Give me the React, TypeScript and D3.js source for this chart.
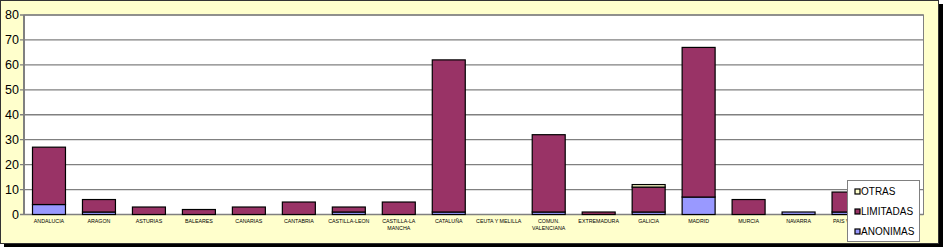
import React from "react";
import * as d3 from "d3";

const categories = [
  "ANDALUCIA", "ARAGON", "ASTURIAS", "BALEARES", "CANARIAS", "CANTABRIA",
  "CASTILLA-LEON", "CASTILLA-LA MANCHA", "CATALUÑA", "CEUTA Y MELILLA",
  "COMUN. VALENCIANA", "EXTREMADURA", "GALICIA", "MADRID", "MURCIA",
  "NAVARRA", "PAIS VASCO", "LA RIOJA",
];
const labelLines: string[][] = [
  ["ANDALUCIA"], ["ARAGON"], ["ASTURIAS"], ["BALEARES"], ["CANARIAS"], ["CANTABRIA"],
  ["CASTILLA-LEON"], ["CASTILLA-LA", "MANCHA"], ["CATALUÑA"], ["CEUTA Y MELILLA"],
  ["COMUN.", "VALENCIANA"], ["EXTREMADURA"], ["GALICIA"], ["MADRID"], ["MURCIA"],
  ["NAVARRA"], ["PAIS VASCO"], ["LA RIOJA"],
];
const anonimas = [4, 1, 0, 0, 0, 0, 1, 0, 1, 0, 1, 0, 1, 7, 0, 1, 1, 0];
const limitadas = [23, 5, 3, 2, 3, 5, 2, 5, 61, 0, 31, 1, 10, 60, 6, 0, 8, 1];
const otras = [0, 0, 0, 0, 0, 0, 0, 0, 0, 0, 0, 0, 1, 0, 0, 0, 0, 0];
const yTicks = [0, 10, 20, 30, 40, 50, 60, 70, 80];
const seriesNames = ["ANONIMAS", "LIMITADAS", "OTRAS"];
const seriesColors = ["#9999FF", "#993366", "#FFFFCC"];

export default function App() {
  const W = 944, H = 248;
  const left = 24, right = 923.5, top = 15, bottom = 214.5;
  const x = d3.scaleBand<string>().domain(categories).range([left, right]).paddingInner(0.34).paddingOuter(0.17);
  const y = d3.scaleLinear().domain([0, 80]).range([bottom, top]);

  const rows = categories.map((c, i) => ({ cat: c, ANONIMAS: anonimas[i], LIMITADAS: limitadas[i], OTRAS: otras[i] }));
  const stack = d3.stack<any>().keys(seriesNames)(rows);

  const legendItems = ["OTRAS", "LIMITADAS", "ANONIMAS"];

  return (
    <svg width={W} height={H} style={{ position: "absolute", left: 0, top: 0, display: "block" }}
      fontFamily="'Liberation Sans', Arial, sans-serif">
      {/* shadow */}
      <rect x={4} y={4} width={939} height={243} fill="#000" />
      <rect x={0.5} y={0.5} width={938} height={243} fill="#FFFFCC" stroke="#333" strokeWidth={1} />
      {/* plot area */}
      <rect x={left} y={top} width={right - left} height={bottom - top} fill="#fff" stroke="#808080" strokeWidth={1} />
      {yTicks.map((t) => (
        <g key={t}>
          <line x1={left - 4} x2={right} y1={y(t)} y2={y(t)} stroke="#808080" strokeWidth={t === 0 ? 1.5 : 1.3} />
          <text x={19} y={y(t) + 4.3} textAnchor="end" fontSize={12.5} fill="#000">{t}</text>
        </g>
      ))}
      <line x1={left} x2={left} y1={top} y2={bottom} stroke="#808080" strokeWidth={2} />
      {stack.map((s, si) => (
        <g key={si}>
          {s.map((d, i) => {
            if (d[1] - d[0] <= 0) return null;
            return (
              <rect key={i} x={x(categories[i])!} width={x.bandwidth()} y={y(d[1])} height={y(d[0]) - y(d[1])}
                fill={seriesColors[si]} stroke="#000" strokeWidth={1.2} />
            );
          })}
        </g>
      ))}
      {categories.map((c, i) => (
        <text key={c} x={x(c)! + x.bandwidth() / 2} y={223} textAnchor="middle" fontSize={5.3} fill="#000">
          {labelLines[i].map((l, j) => (
            <tspan key={j} x={x(c)! + x.bandwidth() / 2} dy={j === 0 ? 0 : 7}>{l}</tspan>
          ))}
        </text>
      ))}
      {/* legend */}
      <rect x={847.5} y={180.5} width={72} height={61} fill="#fff" stroke="#808080" strokeWidth={1} />
      {legendItems.map((name, i) => {
        const si = seriesNames.indexOf(name);
        const cy = 191.5 + i * 20;
        return (
          <g key={name}>
            <rect x={855} y={cy - 2.5} width={5} height={5} fill={seriesColors[si]} stroke="#000" strokeWidth={1.2} />
            <text x={861} y={cy + 3.6} fontSize={10} fill="#000">{name}</text>
          </g>
        );
      })}
    </svg>
  );
}
